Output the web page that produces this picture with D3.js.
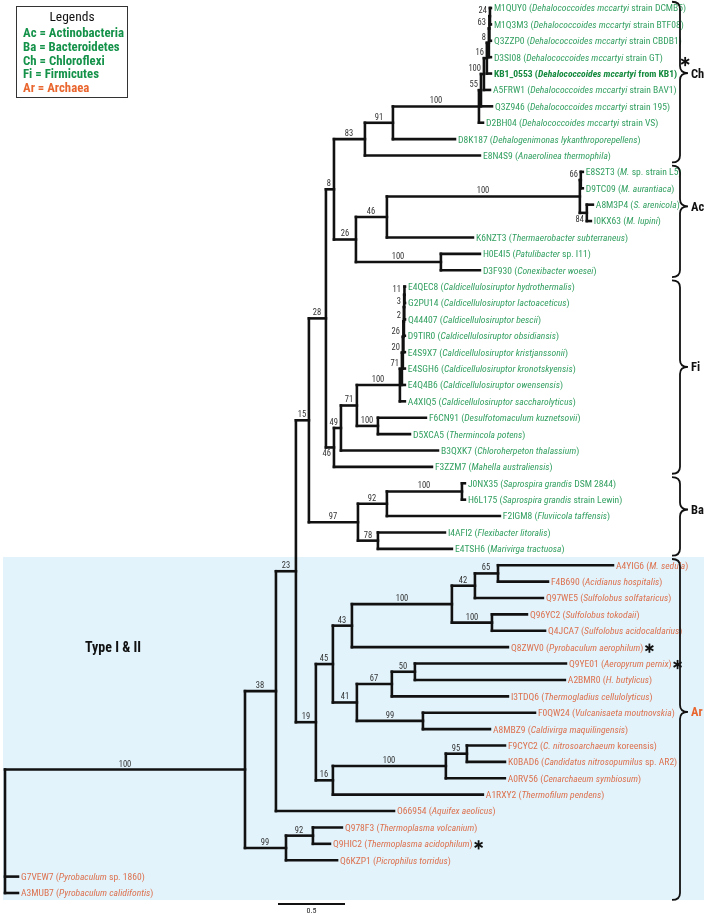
<!DOCTYPE html>
<html>
<head>
<meta charset="utf-8">
<script src="https://cdn.jsdelivr.net/npm/d3@7"></script>
<style>
  body { margin: 0; background: #fff; }
  svg { display: block; will-change: transform; font-family: "Liberation Sans Narrow", "Roboto Condensed", Roboto, sans-serif; }
  .branch { fill: none; stroke: #111; stroke-width: 2.6; stroke-linecap: square; }
  .support { font-size: 8.5px; fill: #333; }
  .leaf { font-size: 9.6px; }
</style>
</head>
<body>
<svg id="chart" width="709" height="914"></svg>
<script>
// tree pieces (newick, branch lengths in substitutions/site, bootstrap as node names)
var dehalococcoides = "(((((((M1QUY0:0.007,M1Q3M3:0.007)24:0.004,Q3ZZP0:0.011)63:0.004,D3SI08:0.015)8:0.015,KB1_0553:0.030)16:0.022,A5FRW1:0.045)100:0.022,Q3Z946:0.082)55:0.015,D2BH04:0.030)100";
var chloroflexi = "((" + dehalococcoides + ":0.642,D8K187:0.463)91:0.209,E8N4S9:0.858)83";
var actinobacteria = "((((E8S2T3:0.015,D9TC09:0.015)66:0.007,(A8M3P4:0.045,I0KX63:0.030)84:0.052)100:1.440,K6NZT3:0.642)46:0.231,(H0E4I5:0.291,D3F930:0.291)100:0.634)26";
var caldicellulosiruptor = "(((((((E4QEC8:0.004,G2PU14:0.004)11:0.002,Q44407:0.006)3:0.002,D9TIR0:0.007)2:0.004,E4S9X7:0.011)26:0.004,E4SGH6:0.015)20:0.007,E4Q4B6:0.022)71:0.015,A4XIQ5:0.037)100";
var firmicutes = "(((" + caldicellulosiruptor + ":0.321,(F6CN91:0.358,D5XCA5:0.239)100:0.157)71:0.119,B3QXK7:0.724)49:0.052,F3ZZM7:0.731)46";
var bacteroidetes = "(((J0NX35:0.022,H6L175:0.022)100:0.560,F2IGM8:0.843)92:0.216,(I4AFI2:0.500,E4TSH6:0.552)78:0.149)97";
var archaea = "((((((A4YIG6:0.858,F4B690:0.373)65:0.172,Q97WE5:0.507)42:0.172,(Q96YC2:0.261,Q4JCA7:0.396)100:0.299)100:0.746,Q8ZWV0:1.164)43:0.142,(((Q9YE01:1.127,A2BMR0:1.119)50:0.172,I3TDQ6:0.866)67:0.261,(F0QW24:0.836,A8MBZ9:0.500)99:0.493)41:0.179)45:0.127,(((F9CYC2:0.284,K0BAD6:0.284)95:0.157,A0RV56:0.440)100:0.843,A1RXY2:1.119)16:0.127)19";
var thermoplasmata = "((Q978F3:0.216,Q9HIC2:0.127)92:0.201,Q6KZP1:0.381)99";

var n8 = "(" + chloroflexi + ":0.231," + actinobacteria + ":0.164)8";
var n28 = "(" + n8 + ":0.060," + firmicutes + ":0.060)28";
var n15 = "(" + n28 + ":0.127," + bacteroidetes + ":0.366)15";
var n23 = "(" + n15 + ":0.097," + archaea + ":0.149)23";
var n38 = "(" + n23 + ":0.149,O66954:0.881)38";
var n100 = "(" + n38 + ":0.231," + thermoplasmata + ":0.306)100";
var treeNewick = "(" + n100 + ":1.791,G7VEW7:0.097,A3MUB7:0.097);";

// leaf id, italic name, plain rest
var species = [
  ["M1QUY0", "Dehalococcoides mccartyi", " strain DCMB5"],
  ["M1Q3M3", "Dehalococcoides mccartyi", " strain BTF08"],
  ["Q3ZZP0", "Dehalococcoides mccartyi", " strain CBDB1"],
  ["D3SI08", "Dehalococcoides mccartyi", " strain GT"],
  ["KB1_0553", "Dehalococcoides mccartyi", " from KB1"],
  ["A5FRW1", "Dehalococcoides mccartyi", " strain BAV1"],
  ["Q3Z946", "Dehalococcoides mccartyi", " strain 195"],
  ["D2BH04", "Dehalococcoides mccartyi", " strain VS"],
  ["D8K187", "Dehalogenimonas lykanthroporepellens", ""],
  ["E8N4S9", "Anaerolinea thermophila", ""],
  ["E8S2T3", "M.", " sp. strain L5"],
  ["D9TC09", "M. aurantiaca", ""],
  ["A8M3P4", "S. arenicola", ""],
  ["I0KX63", "M. lupini", ""],
  ["K6NZT3", "Thermaerobacter subterraneus", ""],
  ["H0E4I5", "Patulibacter", " sp. I11"],
  ["D3F930", "Conexibacter woesei", ""],
  ["E4QEC8", "Caldicellulosiruptor hydrothermalis", ""],
  ["G2PU14", "Caldicellulosiruptor lactoaceticus", ""],
  ["Q44407", "Caldicellulosiruptor bescii", ""],
  ["D9TIR0", "Caldicellulosiruptor obsidiansis", ""],
  ["E4S9X7", "Caldicellulosiruptor kristjanssonii", ""],
  ["E4SGH6", "Caldicellulosiruptor kronotskyensis", ""],
  ["E4Q4B6", "Caldicellulosiruptor owensensis", ""],
  ["A4XIQ5", "Caldicellulosiruptor saccharolyticus", ""],
  ["F6CN91", "Desulfotomaculum kuznetsovii", ""],
  ["D5XCA5", "Thermincola potens", ""],
  ["B3QXK7", "Chloroherpeton thalassium", ""],
  ["F3ZZM7", "Mahella australiensis", ""],
  ["J0NX35", "Saprospira grandis", " DSM 2844"],
  ["H6L175", "Saprospira grandis", " strain Lewin"],
  ["F2IGM8", "Fluviicola taffensis", ""],
  ["I4AFI2", "Flexibacter litoralis", ""],
  ["E4TSH6", "Marivirga tractuosa", ""],
  ["A4YIG6", "M. sedula", ""],
  ["F4B690", "Acidianus hospitalis", ""],
  ["Q97WE5", "Sulfolobus solfataricus", ""],
  ["Q96YC2", "Sulfolobus tokodaii", ""],
  ["Q4JCA7", "Sulfolobus acidocaldarius", ""],
  ["Q8ZWV0", "Pyrobaculum aerophilum", ""],
  ["Q9YE01", "Aeropyrum pernix", ""],
  ["A2BMR0", "H. butylicus", ""],
  ["I3TDQ6", "Thermogladius cellulolyticus", ""],
  ["F0QW24", "Vulcanisaeta moutnovskia", ""],
  ["A8MBZ9", "Caldivirga maquilingensis", ""],
  ["F9CYC2", "C. nitrosoarchaeum", " koreensis"],
  ["K0BAD6", "Candidatus nitrosopumilus", " sp. AR2"],
  ["A0RV56", "Cenarchaeum symbiosum", ""],
  ["A1RXY2", "Thermofilum pendens", ""],
  ["O66954", "Aquifex aeolicus", ""],
  ["Q978F3", "Thermoplasma volcanium", ""],
  ["Q9HIC2", "Thermoplasma acidophilum", ""],
  ["Q6KZP1", "Picrophilus torridus", ""],
  ["G7VEW7", "Pyrobaculum", " sp. 1860"],
  ["A3MUB7", "Pyrobaculum calidifontis", ""]
];

var highlighted = ["KB1_0553"];
var starred = ["KB1_0553", "Q8ZWV0", "Q9YE01", "Q9HIC2"];
var firstArchaeaLeaf = "A4YIG6";

var groupNames = ["Ch", "Ac", "Fi", "Ba", "Ar"];
var groupFirst = ["M1QUY0", "E8S2T3", "E4QEC8", "J0NX35", "A4YIG6"];
var groupLast = ["E8N4S9", "D3F930", "F3ZZM7", "E4TSH6", "A3MUB7"];
var groupTipRow = [3.97, 12.1, 21.9, 30.6, 42.95];

var legendLines = ["Ac = Actinobacteria", "Ba = Bacteroidetes", "Ch = Chloroflexi", "Fi = Firmicutes", "Ar = Archaea"];
var scaleBarValue = 0.5;

var green = "#34a062", greenDark = "#15924a", orange = "#dc7250", orangeDark = "#e9662f";

function parseNewick(s) {
  var i = 0;
  function node() {
    var n = {};
    if (s[i] === "(") {
      i++;
      n.children = [node()];
      while (s[i] === ",") { i++; n.children.push(node()); }
      i++;
    }
    var name = "";
    while (i < s.length && ",():;".indexOf(s[i]) < 0) name += s[i++];
    n.name = name;
    n.length = 0;
    if (s[i] === ":") {
      i++;
      var l = "";
      while (i < s.length && ",();".indexOf(s[i]) < 0) l += s[i++];
      n.length = +l;
    }
    return n;
  }
  return node();
}

var svg = d3.select("#chart");

var root = d3.hierarchy(parseNewick(treeNewick));
root.eachBefore(function(d) { d.dist = d.parent ? d.parent.dist + d.data.length : 0; });
var leaves = root.leaves();

var xScale = d3.scaleLinear().domain([0, 1]).range([5, 139]);
var yScale = d3.scaleLinear().domain([0, leaves.length - 1]).range([8, 893]);

leaves.forEach(function(d, i) { d.row = i; d.y = yScale(i); });
root.eachAfter(function(d) {
  if (d.children) d.y = (d.children[0].y + d.children[d.children.length - 1].y) / 2;
  d.x = xScale(d.dist);
});

var archStart = leaves.findIndex(function(d) { return d.data.name === firstArchaeaLeaf; });

// Type I & II background
svg.append("rect")
  .attr("x", 3)
  .attr("y", yScale(archStart - 0.5))
  .attr("width", 701)
  .attr("height", yScale(leaves.length - 0.57) - yScale(archStart - 0.5))
  .attr("fill", "#e2f3fb");

svg.append("text")
  .attr("x", 85).attr("y", 652)
  .attr("font-size", 14).attr("font-weight", "bold").attr("fill", "#111")
  .text("Type I & II");

// branches
var g = svg.append("g");
g.selectAll("path.h")
  .data(root.descendants().filter(function(d) { return d.parent; }))
  .enter().append("path")
  .attr("class", "branch h")
  .attr("d", function(d) { return "M" + d.parent.x + "," + d.y + "H" + d.x; });

g.selectAll("path.v")
  .data(root.descendants().filter(function(d) { return d.children; }))
  .enter().append("path")
  .attr("class", "branch v")
  .attr("d", function(d) {
    return "M" + d.x + "," + d.children[0].y + "V" + d.children[d.children.length - 1].y;
  });

// bootstrap values
var labelBelow = ["F3ZZM7", "I0KX63"];
g.selectAll("text.support")
  .data(root.descendants().filter(function(d) { return d.parent && d.children && d.data.name; }))
  .enter().append("text")
  .attr("class", "support")
  .each(function(d) {
    var len = d.x - d.parent.x,
        below = d.children.some(function(c) { return labelBelow.indexOf(c.data.name) >= 0; }),
        t = d3.select(this);
    if (len >= 12) {
      t.attr("x", Math.round(d.parent.x + len / 2)).attr("text-anchor", "middle");
    } else {
      t.attr("x", Math.round(d.x - 3)).attr("text-anchor", "end");
    }
    t.attr("y", Math.round(below ? d.y + 9 : d.y - 3));
  })
  .text(function(d) { return d.data.name; });

// leaf labels
var speciesById = {};
species.forEach(function(s) { speciesById[s[0]] = s; });

var leafText = g.selectAll("text.leaf")
  .data(leaves)
  .enter().append("text")
  .attr("class", "leaf")
  .attr("x", function(d) { return d.x + 3; })
  .attr("y", function(d) { return d.y + 3.4; })
  .attr("fill", function(d) {
    if (highlighted.indexOf(d.data.name) >= 0) return "#168a3f";
    return d.row >= archStart ? orange : green;
  })
  .attr("font-weight", function(d) { return highlighted.indexOf(d.data.name) >= 0 ? "bold" : null; });

leafText.append("tspan").text(function(d) { return d.data.name + " ("; });
leafText.append("tspan").attr("font-style", "italic").text(function(d) { return speciesById[d.data.name][1]; });
leafText.append("tspan").text(function(d) { return speciesById[d.data.name][2] + ")"; });

// asterisks
leafText.filter(function(d) { return starred.indexOf(d.data.name) >= 0; })
  .each(function(d) {
    var b = this.getBBox(),
        top = highlighted.indexOf(d.data.name) >= 0,
        cx = b.x + b.width + (top ? 8 : 6),
        cy = d.y + (top ? -12 : 1),
        r = 4.6;
    [90, 30, 150].forEach(function(a) {
      var rad = a * Math.PI / 180;
      g.append("line")
        .attr("x1", cx - r * Math.cos(rad)).attr("y1", cy - r * Math.sin(rad))
        .attr("x2", cx + r * Math.cos(rad)).attr("y2", cy + r * Math.sin(rad))
        .attr("stroke", "#111").attr("stroke-width", 1.8);
    });
  });

// clade braces
function brace(x0, t, b, m, w) {
  var xs = x0 + w / 2, xt = x0 + w,
      r = Math.min(7, (m - t) / 2, (b - m) / 2);
  return "M" + x0 + "," + t + "Q" + xs + "," + t + " " + xs + "," + (t + r) +
    "L" + xs + "," + (m - r) + "Q" + xs + "," + m + " " + xt + "," + m +
    "Q" + xs + "," + m + " " + xs + "," + (m + r) +
    "L" + xs + "," + (b - r) + "Q" + xs + "," + b + " " + x0 + "," + b;
}

function rowOf(id) { return leaves.findIndex(function(d) { return d.data.name === id; }); }

groupNames.forEach(function(name, i) {
  var t = yScale(rowOf(groupFirst[i]) - 0.38),
      b = yScale(rowOf(groupLast[i]) + 0.42),
      m = yScale(groupTipRow[i]);
  svg.append("path")
    .attr("d", brace(672, t, b, m, 16))
    .attr("fill", "none").attr("stroke", "#111").attr("stroke-width", 1.8);
  svg.append("text")
    .attr("x", 691).attr("y", Math.round(m + 4.5))
    .attr("font-size", 12.5).attr("font-weight", "bold")
    .attr("fill", name === "Ar" ? orangeDark : "#111")
    .text(name);
});

// legend
var legend = svg.append("g");
legend.append("rect")
  .attr("x", 16.5).attr("y", 6.5).attr("width", 111).attr("height", 91)
  .attr("fill", "#fff").attr("stroke", "#333").attr("stroke-width", 1);
legend.append("text")
  .attr("x", 72).attr("y", 21).attr("text-anchor", "middle")
  .attr("font-size", 13.5).attr("fill", "#111")
  .text("Legends");
legend.selectAll("text.entry")
  .data(legendLines)
  .enter().append("text")
  .attr("class", "entry")
  .attr("x", 23)
  .attr("y", function(d, i) { return 37 + i * 13.8; })
  .attr("font-size", 12.8).attr("font-weight", "bold")
  .attr("fill", function(d, i) { return i === legendLines.length - 1 ? orangeDark : greenDark; })
  .text(function(d) { return d; });

// scale bar
var barX = 278, barY = 904;
svg.append("line")
  .attr("x1", barX).attr("x2", barX + xScale(scaleBarValue) - xScale(0))
  .attr("y1", barY).attr("y2", barY)
  .attr("stroke", "#111").attr("stroke-width", 2);
svg.append("text")
  .attr("x", barX + (xScale(scaleBarValue) - xScale(0)) / 2).attr("y", 913)
  .attr("text-anchor", "middle").attr("font-size", 8).attr("fill", "#222")
  .text(scaleBarValue);
</script>
</body>
</html>
